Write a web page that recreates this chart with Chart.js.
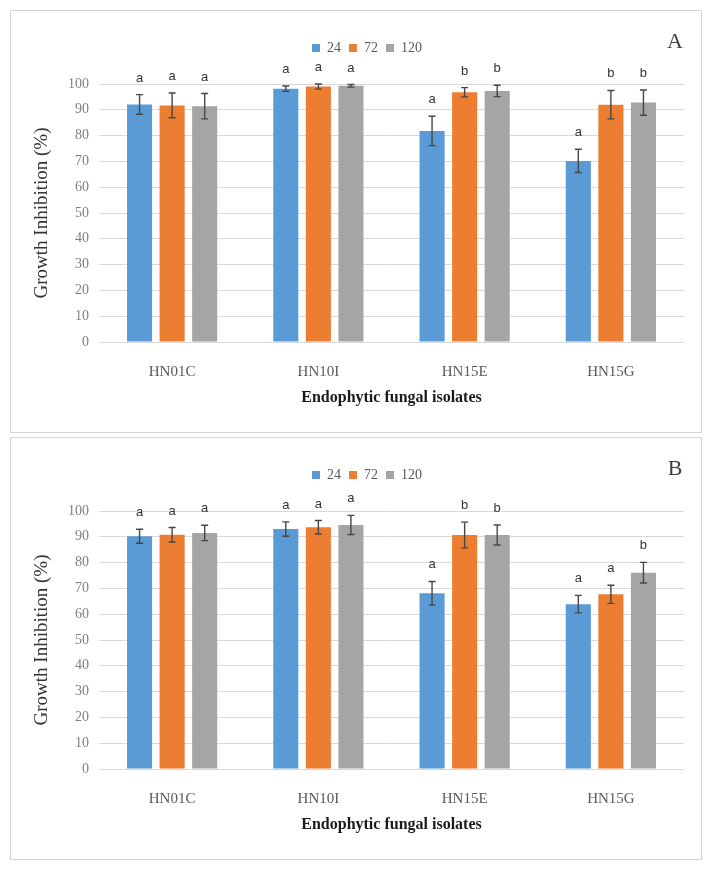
<!DOCTYPE html>
<html>
<head>
<meta charset="utf-8">
<script src="https://cdn.jsdelivr.net/npm/chart.js@4.4.1/dist/chart.umd.min.js"></script>
<style>
  body { margin: 0; background: #fff; }
  .panel {
    position: absolute;
    left: 10px;
    width: 692px;
    height: 423px;
    box-sizing: border-box;
    border: 1px solid #d4d4d4;
  }
  #panelA { top: 10px; }
  #panelB { top: 437px; }
  canvas { display: block; }
</style>
</head>
<body>
<div class="panel" id="panelA"><canvas id="chartA" width="690" height="421"></canvas></div>
<div class="panel" id="panelB"><canvas id="chartB" width="690" height="421"></canvas></div>

<script>
const categories = ['HN01C', 'HN10I', 'HN15E', 'HN15G'];
const seriesLabels = ['24', '72', '120'];
const yTicks = [0, 10, 20, 30, 40, 50, 60, 70, 80, 90, 100];

// panel A
const a24 = [92.1, 98.2, 81.8, 70.2];
const a72 = [91.7, 99.0, 96.8, 92.0];
const a120 = [91.4, 99.3, 97.3, 92.8];
const a24Err = [3.8, 1.0, 5.7, 4.5];
const a72Err = [4.8, 1.0, 1.8, 5.5];
const a120Err = [4.9, 0.5, 2.2, 4.9];
const a24Letters = ['a', 'a', 'a', 'a'];
const a72Letters = ['a', 'a', 'b', 'b'];
const a120Letters = ['a', 'a', 'b', 'b'];

// panel B
const b24 = [90.2, 93.0, 68.1, 63.9];
const b72 = [90.8, 93.7, 90.7, 67.7];
const b120 = [91.5, 94.6, 90.7, 76.1];
const b24Err = [2.7, 2.8, 4.6, 3.4];
const b72Err = [2.8, 2.6, 5.0, 3.5];
const b120Err = [3.0, 3.7, 3.9, 4.0];
const b24Letters = ['a', 'a', 'a', 'a'];
const b72Letters = ['a', 'a', 'b', 'a'];
const b120Letters = ['a', 'a', 'b', 'b'];

const colors = ['#5b9bd5', '#ed7d31', '#a5a5a5'];
const SERIF = "'Liberation Serif', 'Times New Roman', serif";

// draws the error bars, significance letters and the panel tag
const extrasPlugin = {
  id: 'extras',
  afterDatasetsDraw(chart, args, opts) {
    const { ctx } = chart;
    const y = chart.scales.y;
    ctx.save();
    chart.data.datasets.forEach((ds, di) => {
      const meta = chart.getDatasetMeta(di);
      meta.data.forEach((bar, i) => {
        const v = ds.data[i];
        const e = ds.errors[i];
        const top = y.getPixelForValue(v + e);
        const bot = y.getPixelForValue(v - e);
        ctx.strokeStyle = '#474747';
        ctx.lineWidth = 1.4;
        ctx.beginPath();
        ctx.moveTo(bar.x, top);
        ctx.lineTo(bar.x, bot);
        ctx.moveTo(bar.x - 3.5, top);
        ctx.lineTo(bar.x + 3.5, top);
        ctx.moveTo(bar.x - 3.5, bot);
        ctx.lineTo(bar.x + 3.5, bot);
        ctx.stroke();

        ctx.fillStyle = '#333';
        ctx.font = "13px 'Liberation Sans', Arial, sans-serif";
        ctx.textAlign = 'center';
        ctx.textBaseline = 'alphabetic';
        ctx.fillText(ds.letters[i], bar.x, top - 13);
      });
    });
    ctx.font = '22px ' + SERIF;
    ctx.fillStyle = '#404040';
    ctx.textAlign = 'center';
    ctx.textBaseline = 'middle';
    ctx.fillText(opts.tag, 664, 31);
    ctx.restore();
  }
};

function makeChart(canvasId, tag, values, errors, letters) {
  const datasets = seriesLabels.map((label, k) => ({
    label,
    data: values[k],
    errors: errors[k],
    letters: letters[k],
    backgroundColor: colors[k],
    borderWidth: 0,
    categoryPercentage: 0.668,
    barPercentage: 0.77,
  }));

  return new Chart(document.getElementById(canvasId), {
    type: 'bar',
    data: { labels: categories, datasets },
    plugins: [extrasPlugin],
    options: {
      responsive: false,
      devicePixelRatio: 1,
      animation: false,
      layout: { padding: { left: 22, top: 22, right: 0, bottom: 0 } },
      plugins: {
        tooltip: { enabled: false },
        extras: { tag },
        legend: {
          position: 'top',
          labels: {
            boxWidth: 8,
            boxHeight: 8,
            padding: 8,
            color: '#595959',
            font: { family: SERIF, size: 14 },
          },
        },
        // empty spacer between the legend and the plot (weight below the legend's)
        title: {
          display: true,
          text: '',
          weight: 500,
          padding: 0,
          font: { size: 19, lineHeight: 1 },
        },
      },
      scales: {
        x: {
          grid: { display: false },
          border: { display: false },
          ticks: { color: '#595959', padding: 13, font: { family: SERIF, size: 15 } },
          title: {
            display: true,
            text: 'Endophytic fungal isolates',
            color: '#1a1a1a',
            font: { family: SERIF, size: 16, weight: 'bold' },
            padding: { top: 0, bottom: 25 },
          },
          afterFit: (s) => {
            s.height = 90;
            s.paddingLeft = 0;
            s.paddingRight = 17;
          },
        },
        y: {
          min: 0,
          max: 100,
          afterBuildTicks: (s) => { s.ticks = yTicks.map((v) => ({ value: v })); },
          grid: { color: '#d9d9d9', lineWidth: 1, drawTicks: false },
          border: { display: false },
          ticks: { color: '#7f7f7f', padding: 10, font: { family: SERIF, size: 14 } },
          title: {
            display: true,
            text: 'Growth Inhibition (%)',
            color: '#333',
            font: { family: SERIF, size: 19, lineHeight: 1 },
            padding: 0,
          },
          afterFit: (s) => {
            s.width = 66;
            s.paddingTop = 73;
          },
        },
      },
    },
  });
}

makeChart('chartA', 'A', [a24, a72, a120], [a24Err, a72Err, a120Err], [a24Letters, a72Letters, a120Letters]);
makeChart('chartB', 'B', [b24, b72, b120], [b24Err, b72Err, b120Err], [b24Letters, b72Letters, b120Letters]);
</script>
</body>
</html>
